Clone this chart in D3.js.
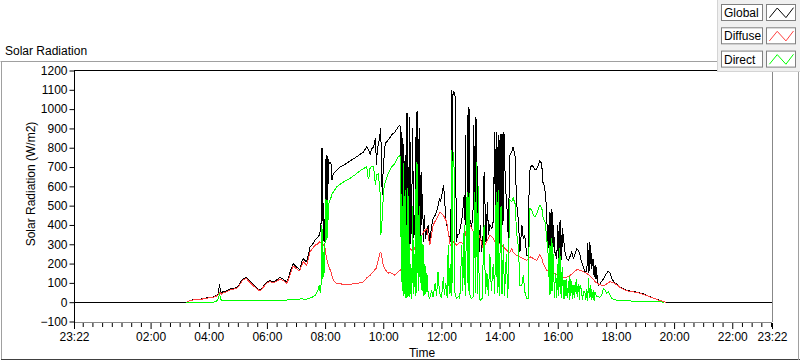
<!DOCTYPE html>
<html>
<head>
<meta charset="utf-8">
<script src="https://cdn.jsdelivr.net/npm/d3@7"></script>
<style>
  body { margin: 0; background: #fff; }
  svg { display: block; font-family: "Liberation Sans", Arial, sans-serif; }
</style>
</head>
<body>
<svg id="chart" width="800" height="361"></svg>
<script>
// time window runs from 23:22 the evening before to 23:22
const windowStart = "23:22";
const xTickLabels = ["23:22", "02:00", "04:00", "06:00", "08:00", "10:00", "12:00",
  "14:00", "16:00", "18:00", "20:00", "22:00", "23:22"];
const yTickValues = [-100, 0, 100, 200, 300, 400, 500, 600, 700, 800, 900, 1000, 1100, 1200];
const seriesNames = ["Global", "Diffuse", "Direct"];
const seriesColors = ["#000000", "#ff4040", "#00ff00"];

// values, W/m2
const globalData = [["23:22",0],
["03:14",0],["03:16",3],["03:22",10],["03:30",13],["03:42",15],["03:50",20],["04:00",24],["04:08",26],["04:16",36],["04:20",45],["04:22",92],["04:24",60],["04:26",48],["04:30",55],["04:36",57],["04:44",68],["04:52",72],["04:58",75],["05:04",95],["05:09",118],["05:14",125],["05:18",128],["05:22",115],["05:29",97],["05:36",80],["05:42",68],["05:46",62],["05:52",80],["06:00",105],["06:06",112],["06:13",105],["06:20",115],["06:27",128],["06:34",118],["06:41",105],["06:45",130],["06:48",157],["06:52",185],["06:54",200],["06:58",190],["07:01",183],["07:05",175],["07:08",170],["07:12",210],["07:15",226],["07:19",215],["07:22",209],["07:26",250],["07:29",286],["07:34",300],["07:39",320],["07:44",335],["07:49",350],["07:52",416],
["07:53",796],["07:54",420],["07:55",800],["07:56",400],["07:57",330],["07:58",312],["08:01",500],["08:02",761],["08:03",420],["08:04",755],["08:05",470],["08:07",740],["08:09",718],["08:12",727],["08:14",632],["08:17",666],["08:24",684],["08:31",700],["08:38",709],["08:45",720],["08:51",730],["08:58",742],["09:05",753],["09:12",765],["09:19",778],["09:26",804],["09:30",790],["09:33",765],["09:36",795],["09:40",804],["09:44",851],["09:46",709],["09:48",800],["09:50",813],["09:55",900],["09:56",700],["09:58",554],["10:00",700],["10:04",822],["10:10",839],["10:17",865],["10:24",882],["10:31",908],["10:34",915],["10:36",900],
["10:37",192],["10:38",880],["10:39",300],["10:40",850],["10:41",250],["10:42",820],["10:43",200],["10:45",760],["10:47",230],["10:49",980],["10:50",480],["10:52",700],["10:53",250],["10:55",960],["10:56",300],["10:58",380],["11:01",900],["11:02",330],["11:04",450],["11:06",320],["11:08",985],["11:09",320],["11:10",989],["11:12",350],["11:14",900],["11:16",320],["11:18",675],["11:19",400],["11:21",560],["11:23",312],["11:25",450],["11:27",330],["11:30",380],["11:33",399],["11:36",312],["11:40",400],["11:43",433],["11:47",450],["11:50",468],["11:53",500],["11:56",537],["11:58",520],["12:01",554],["12:04",606],["12:06",560],["12:09",433],["12:12",390],["12:14",364],["12:18",312],["12:20",500],["12:21",1098],["12:22",700],["12:24",1090],["12:26",1089],["12:28",1080],["12:31",312],["12:33",350],["12:36",350],["12:40",399],["12:43",442],["12:47",554],["12:49",400],["12:50",865],["12:51",420],["12:53",468],["12:54",700],["12:55",1011],["12:56",400],["12:57",1000],["12:59",420],["13:02",399],["13:05",433],["13:07",917],["13:08",450],["13:10",960],["13:11",400],["13:13",950],["13:14",380],["13:16",500],["13:18",260],["13:20",399],["13:23",260],["13:26",350],["13:28",675],["13:30",502],["13:32",312],["13:35",519],["13:37",350],["13:40",399],["13:44",380],["13:47",420],["13:50",882],["13:51",400],["13:53",880],["13:55",330],["13:57",865],["13:59",300],["14:01",873],["14:03",320],["14:05",870],["14:07",400],["14:09",882],["14:12",606],["14:15",500],["14:18",330],["14:21",761],["14:25",778],["14:28",804],["14:32",753],["14:35",519],["14:39",416],["14:42",260],["14:46",399],["14:49",330],["14:52",347],["14:56",243],["14:59",240],["15:01",600],["15:03",692],["15:06",709],["15:10",700],["15:13",684],["15:17",692],["15:20",709],["15:23",735],["15:27",717],["15:29",623],["15:32",606],["15:34",571],["15:37",485],["15:39",300],["15:41",399],["15:43",157],["15:44",468],["15:46",200],["15:48",485],["15:50",250],["15:51",399],["15:54",260],["15:58",226],["16:00",400],["16:01",180],["16:03",416],["16:05",200],["16:06",425],["16:08",220],["16:10",382],["16:11",347],["16:15",260],["16:18",226],["16:22",217],["16:25",235],["16:29",260],["16:32",226],["16:36",252],["16:39",278],["16:43",269],["16:46",243],["16:49",209],["16:53",183],["16:56",157],["17:00",157],["17:02",304],["17:03",150],["17:05",310],["17:06",160],["17:08",295],["17:10",174],["17:13",226],["17:15",130],["17:17",192],["17:19",120],["17:20",183],["17:22",100],["17:24",88],["17:27",95],["17:31",110],["17:34",120],["17:38",140],["17:41",150],["17:44",162],["17:48",150],["17:51",125],["17:56",105],["18:02",92],["18:08",80],["18:15",70],["18:22",62],["18:29",58],["18:43",52],["18:50",48],["19:00",40],["19:10",28],["19:17",22],["19:30",10],["19:40",2],["19:44",0],
["23:22",0]];

const diffuseData = [
["03:14",0],["03:16",3],["03:22",9],["03:30",12],["03:42",14],["03:50",18],["04:00",22],["04:08",24],["04:16",32],["04:20",38],["04:22",52],["04:24",48],["04:26",42],["04:30",50],["04:36",53],["04:44",63],["04:52",68],["04:58",72],["05:04",90],["05:09",112],["05:14",120],["05:18",122],["05:22",110],["05:29",92],["05:36",76],["05:42",64],["05:46",58],["05:52",76],["06:00",100],["06:06",107],["06:13",100],["06:20",108],["06:27",120],["06:34",112],["06:41",98],["06:45",120],["06:48",145],["06:52",172],["06:54",188],["06:58",180],["07:01",173],["07:05",165],["07:08",166],["07:12",192],["07:15",210],["07:19",200],["07:22",192],["07:26",230],["07:29",260],["07:34",278],["07:39",295],["07:44",300],["07:49",312],["07:53",306],["07:56",300],["08:00",280],["08:03",228],["08:07",190],["08:12",157],["08:17",114],["08:24",97],["08:38",93],["08:51",93],["09:05",97],["09:12",100],["09:19",105],["09:26",126],["09:33",140],["09:40",160],["09:45",174],["09:50",220],["09:53",255],["09:55",260],["09:58",220],["10:00",192],["10:04",170],["10:10",149],["10:14",157],["10:17",150],["10:24",140],["10:28",149],["10:31",160],["10:36",166],["10:41",192],["10:48",226],["10:55",278],["11:02",260],["11:09",312],["11:16",330],["11:23",364],["11:30",382],["11:36",295],["11:43",399],["11:50",433],["11:57",468],["12:04",450],["12:11",416],["12:18",295],["12:25",312],["12:32",295],["12:38",312],["12:45",303],["12:52",382],["12:59",399],["13:06",364],["13:13",382],["13:20",330],["13:26",278],["13:33",312],["13:40",347],["13:47",330],["13:54",295],["14:01",308],["14:08",285],["14:15",268],["14:21",255],["14:25",278],["14:28",260],["14:35",243],["14:42",235],["14:49",226],["14:56",217],["15:03",235],["15:10",226],["15:17",217],["15:23",245],["15:27",230],["15:30",200],["15:37",165],["15:44",155],["15:51",150],["15:58",144],["16:05",135],["16:11",128],["16:18",130],["16:25",138],["16:32",152],["16:39",168],["16:46",166],["16:53",157],["17:00",149],["17:07",135],["17:13",118],["17:20",100],["17:27",90],["17:34",85],["17:41",95],["17:48",107],["17:55",100],["18:02",90],["18:08",78],["18:15",68],["18:22",60],["18:29",56],["18:43",50],["18:50",46],["19:00",38],["19:10",27],["19:17",21],["19:30",9],["19:40",2],["19:44",0]];

const directData = [
["03:14",0],["04:10",0],["04:16",5],["04:20",20],["04:22",40],["04:24",25],["04:26",8],["04:40",8],["05:00",8],["05:20",8],["05:30",10],["05:40",8],["06:00",8],["06:20",10],["06:30",8],["06:45",12],["06:50",15],["07:00",12],["07:10",18],["07:20",15],["07:30",22],["07:35",28],["07:40",36],["07:45",60],["07:48",88],["07:50",50],["07:52",100],["07:53",399],["07:54",120],["07:55",380],["07:56",131],["07:57",260],["07:58",150],["08:00",320],["08:01",537],["08:02",320],["08:04",530],["08:05",330],["08:07",510],["08:09",519],["08:12",540],["08:14",560],["08:17",571],["08:24",597],["08:31",610],["08:38",623],["08:45",632],["08:51",640],["08:58",653],["09:05",666],["09:12",680],["09:19",692],["09:26",701],["09:29",640],["09:31",650],["09:33",700],["09:40",701],["09:44",606],["09:46",660],["09:50",666],["09:54",550],["09:55",347],["09:57",400],["09:59",500],["10:02",606],["10:10",666],["10:17",700],["10:24",718],["10:28",740],["10:31",753],["10:34",760],["10:36",740],
["10:37",105],["10:38",560],["10:39",60],["10:40",500],["10:41",30],["10:42",720],["10:43",40],["10:45",580],["10:46",20],["10:48",400],["10:49",20],["10:51",589],["10:52",30],["10:54",300],["10:55",25],["10:57",200],["10:59",19],["11:01",500],["11:02",40],["11:04",250],["11:06",30],["11:08",727],["11:09",50],["11:10",718],["11:12",60],["11:14",500],["11:16",100],["11:18",350],["11:20",60],["11:22",300],["11:24",30],["11:26",200],["11:28",40],["11:30",150],["11:33",30],["11:36",20],["11:40",60],["11:43",25],["11:47",100],["11:50",30],["11:53",155],["11:56",50],["12:00",20],["12:04",130],["12:06",40],["12:09",100],["12:12",20],["12:14",295],["12:16",40],["12:18",200],["12:20",30],["12:21",787],["12:23",100],["12:24",780],["12:26",700],["12:28",50],["12:31",19],["12:35",30],["12:38",19],["12:42",295],["12:44",60],["12:47",399],["12:49",30],["12:53",571],["12:55",60],["12:57",563],["12:59",30],["13:02",19],["13:06",30],["13:08",571],["13:10",50],["13:12",727],["13:14",40],["13:16",600],["13:18",20],["13:20",10],["13:24",20],["13:28",399],["13:31",40],["13:34",150],["13:37",30],["13:40",250],["13:43",60],["13:47",200],["13:50",40],["13:53",571],["13:55",50],["13:57",580],["13:59",30],["14:03",500],["14:05",40],["14:08",300],["14:10",30],["14:14",250],["14:17",20],["14:21",528],["14:25",520],["14:28",540],["14:32",510],["14:35",364],["14:39",278],["14:42",88],["14:46",88],["14:49",140],["14:52",54],["14:56",19],["14:59",19],["15:02",485],["15:06",480],["15:10",450],["15:13",440],["15:17",460],["15:20",485],["15:23",502],["15:27",490],["15:30",433],["15:34",416],["15:37",338],["15:41",226],
["15:43",36],["15:44",295],["15:46",40],["15:48",330],["15:50",60],["15:51",250],["15:53",20],["15:54",88],["15:56",150],["15:58",20],["16:00",200],["16:01",30],["16:03",280],["16:05",40],["16:06",240],["16:08",20],["16:10",180],["16:11",100],["16:13",15],["16:15",115],["16:17",30],["16:18",120],["16:20",20],["16:22",110],["16:24",10],["16:25",135],["16:27",30],["16:29",110],["16:31",15],["16:32",88],["16:34",20],["16:36",105],["16:38",40],["16:39",120],["16:41",25],["16:43",95],["16:45",10],["16:46",88],["16:49",62],["16:51",10],["16:53",54],["16:56",54],["16:58",10],["17:00",70],["17:02",5],["17:03",123],["17:05",20],["17:07",88],["17:09",10],["17:10",70],["17:12",20],["17:13",62],["17:15",5],["17:17",54],["17:20",30],["17:24",28],["17:27",25],["17:31",40],["17:34",70],["17:38",62],["17:41",45],["17:44",55],["17:48",36],["17:51",19],["18:02",10],["18:20",7],["19:00",4],["19:30",2],["19:40",0]];

// "HH:MM" -> minutes after midnight; a late time at the start of a series belongs to the evening before
function toMin(s) {
  const p = s.split(":").map(Number);
  return p[0] * 60 + p[1];
}
function parseSeries(arr) {
  return arr.map((d, i) => {
    let m = toMin(d[0]);
    if (i === 0 && m > 720) m -= 1440;
    return { t: m, v: d[1] };
  });
}

const t0 = toMin(windowStart) - 1440;
const t1 = t0 + 1440;

const svg = d3.select("#chart");
const margin = { left: 74, right: 772, top: 70.5, bottom: 321.5 };

const x = d3.scaleLinear().domain([t0, t1]).range([margin.left, margin.right]);
const y = d3.scaleLinear().domain([-100, 1200]).range([margin.bottom, margin.top]);

// outer panel frame
svg.append("line").attr("x1", 0.5).attr("x2", 718).attr("y1", 61.5).attr("y2", 61.5).attr("stroke", "#a0a0a0");
svg.append("line").attr("x1", 1.5).attr("x2", 1.5).attr("y1", 61.5).attr("y2", 360).attr("stroke", "#a0a0a0");
svg.append("line").attr("x1", 1).attr("x2", 800).attr("y1", 359.5).attr("y2", 359.5).attr("stroke", "#404040");
svg.append("line").attr("x1", 798.5).attr("x2", 798.5).attr("y1", 72).attr("y2", 360).attr("stroke", "#a0a0a0");

svg.append("text").attr("x", 5).attr("y", 55).attr("font-size", 12).attr("fill", "#000").text("Solar Radiation");

// plot area
svg.append("rect").attr("x", margin.left).attr("y", margin.top)
  .attr("width", margin.right - margin.left).attr("height", margin.bottom - margin.top)
  .attr("fill", "#fff");

svg.append("clipPath").attr("id", "plotclip").append("rect")
  .attr("x", margin.left).attr("y", margin.top - 1)
  .attr("width", margin.right - margin.left).attr("height", margin.bottom - margin.top + 1);

const line = d3.line().x(d => x(d.t)).y(d => y(d.v));
const seriesList = [globalData, diffuseData, directData];
const plotG = svg.append("g").attr("clip-path", "url(#plotclip)");
seriesList.forEach((arr, i) => {
  plotG.append("path")
    .datum(parseSeries(arr))
    .attr("d", line)
    .attr("fill", "none")
    .attr("stroke", seriesColors[i])
    .attr("stroke-width", 1)
    .attr("shape-rendering", "crispEdges");
});

// frame lines of the plot
svg.append("line").attr("x1", margin.left).attr("x2", margin.right).attr("y1", 70.5).attr("y2", 70.5).attr("stroke", "#000");
svg.append("line").attr("x1", margin.right + 0.5).attr("x2", margin.right + 0.5).attr("y1", 70).attr("y2", 322).attr("stroke", "#888");
svg.append("line").attr("x1", margin.left).attr("x2", margin.right).attr("y1", 322.5).attr("y2", 322.5).attr("stroke", "#888");
svg.append("line").attr("x1", margin.left + 0.5).attr("x2", margin.left + 0.5).attr("y1", 70).attr("y2", 323).attr("stroke", "#000");

// y axis
const yAxis = d3.axisLeft(y).tickValues(yTickValues).tickSize(5).tickPadding(2).tickFormat(d3.format("d"));
const yg = svg.append("g").attr("transform", "translate(" + (margin.left + 0.5) + ",0)").call(yAxis);
yg.select(".domain").remove();
yg.selectAll("line").attr("stroke", "#000");
yg.selectAll("text").attr("font-size", 12).attr("font-family", "Liberation Sans, Arial, sans-serif").attr("fill", "#000");

// x axis: majors every two hours plus the window ends, minors every 20 min
const majorTicks = xTickLabels.map((s, i) => i === 0 ? t0 : (i === xTickLabels.length - 1 ? t1 : toMin(s)));
const minorTicks = d3.range(t0 + 18, t1, 20).filter(m => majorTicks.indexOf(m) < 0);

const minorAxis = d3.axisBottom(x).tickValues(minorTicks).tickSize(4).tickFormat("");
const mg = svg.append("g").attr("transform", "translate(0,323)").call(minorAxis);
mg.select(".domain").remove();
mg.selectAll("line").attr("stroke", "#000");

const majorAxis = d3.axisBottom(x).tickValues(majorTicks).tickSize(6).tickPadding(3)
  .tickFormat((d, i) => xTickLabels[i]);
const xg = svg.append("g").attr("transform", "translate(0,323)").call(majorAxis);
xg.select(".domain").remove();
xg.selectAll("line").attr("stroke", "#000");
xg.selectAll("text").attr("font-size", 12).attr("font-family", "Liberation Sans, Arial, sans-serif").attr("fill", "#000");

// axis titles
svg.append("text").attr("x", 422).attr("y", 357).attr("text-anchor", "middle").attr("font-size", 12).text("Time");
svg.append("text").attr("transform", "translate(35,184) rotate(-90)").attr("text-anchor", "middle")
  .attr("font-size", 12).text("Solar Radiation (W/m2)");

// legend
const legend = svg.append("g");
legend.append("rect").attr("x", 717.5).attr("y", -0.5).attr("width", 83).attr("height", 72)
  .attr("fill", "#f0f0f0").attr("stroke", "#d4d4d4");
seriesNames.forEach((name, i) => {
  const top = 4 + i * 23.3;
  legend.append("rect").attr("x", 721.5).attr("y", top + 0.5).attr("width", 41).attr("height", 16)
    .attr("fill", "#fff").attr("stroke", "#808080");
  legend.append("text").attr("x", 724).attr("y", top + 13).attr("font-size", 12).text(name);
  legend.append("rect").attr("x", 766.5).attr("y", top + 0.5).attr("width", 29).attr("height", 16)
    .attr("fill", "#fff").attr("stroke", "#808080");
  const zig = [[0.1, 0.82], [0.37, 0.22], [0.67, 0.82], [0.93, 0.2]];
  legend.append("path")
    .attr("d", d3.line()(zig.map(p => [766.5 + p[0] * 29, top + 0.5 + p[1] * 16])))
    .attr("fill", "none").attr("stroke", seriesColors[i]).attr("stroke-width", 1);
});
</script>
</body>
</html>
